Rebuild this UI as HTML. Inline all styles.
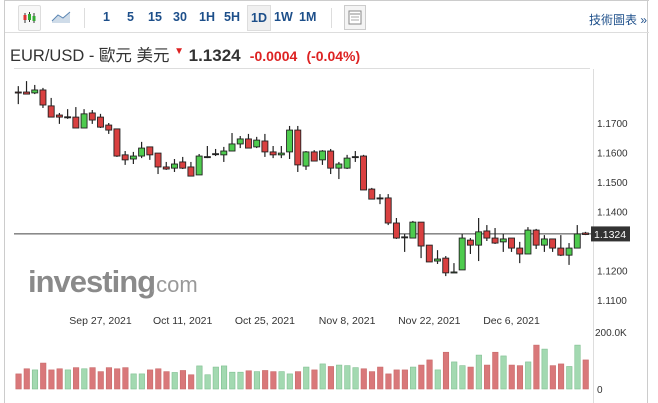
<!DOCTYPE html>
<html><head><meta charset="utf-8"><style>
body{margin:0;width:658px;height:403px;overflow:hidden;background:#fff;font-family:"Liberation Sans","Noto Sans CJK TC",sans-serif;}
#frame{position:absolute;left:4px;top:0;width:644px;height:403px;border-left:1px solid #ccc;border-right:1px solid #ccc;box-sizing:border-box;}
#toolbar{position:absolute;left:0;top:0;width:644px;height:33px;border-bottom:1px solid #ddd;border-top:1px solid #ccc;box-sizing:border-box;}
.tb{position:absolute;top:9px;font-size:12.5px;color:#1d4f8a;font-weight:bold;}
.sep{position:absolute;top:7px;width:1px;height:20px;background:#ddd;}
#title{position:absolute;left:10px;top:42px;font-size:16.5px;color:#333;white-space:nowrap;}
svg{position:absolute;left:0;top:0;}
</style></head><body>
<div id="frame">
 <div id="toolbar">
  <div style="position:absolute;left:13px;top:4px;width:21px;height:24px;border:1px solid #ddd;border-radius:2px;background:#f7f7f7;">
   <svg width="21" height="24"><line x1="6" y1="7" x2="6" y2="17" stroke="#333"/><rect x="4.5" y="9" width="3" height="5" fill="#d33"/><line x1="10.5" y1="6" x2="10.5" y2="16" stroke="#333"/><rect x="9" y="8" width="3" height="6" fill="#3a3"/><line x1="15" y1="7" x2="15" y2="17" stroke="#333"/><rect x="13.5" y="10" width="3" height="5" fill="#3a3"/></svg>
  </div>
  <div style="position:absolute;left:46px;top:8px;"><svg width="20" height="16"><path d="M1 12 L7 6 L12 9 L19 3 L19 14 L1 14Z" fill="#cfdce9"/><path d="M1 12 L7 6 L12 9 L19 3" stroke="#5b86b3" fill="none"/></svg></div>
  <div class="sep" style="left:79px"></div>
  <span class="tb" style="left:98px">1</span>
  <span class="tb" style="left:122px">5</span>
  <span class="tb" style="left:143px">15</span>
  <span class="tb" style="left:168px">30</span>
  <span class="tb" style="left:194px">1H</span>
  <span class="tb" style="left:219px">5H</span>
  <span class="tb" style="left:242px;top:4px;padding:5px 3px;background:#f0f0f0;border:1px solid #ddd;">1D</span>
  <span class="tb" style="left:269px">1W</span>
  <span class="tb" style="left:294px">1M</span>
  <div class="sep" style="left:326px"></div>
  <div style="position:absolute;left:339px;top:4px;width:20px;height:23px;border:1px solid #ccc;background:#f4f4f4;"><svg width="20" height="23"><rect x="4" y="5" width="12" height="13" fill="#fff" stroke="#888"/><line x1="5" y1="8" x2="15" y2="8" stroke="#888"/><line x1="6" y1="11" x2="14" y2="11" stroke="#aaa"/><line x1="6" y1="14" x2="14" y2="14" stroke="#aaa"/></svg></div>
  <span style="position:absolute;left:584px;top:10px;font-size:12px;color:#1d4f8a;">技術圖表 »</span>
 </div>
</div>
<div id="title"><span style="color:#333">EUR/USD - 歐元 美元</span> <span style="color:#d22;font-size:10px;position:relative;top:-7px">&#9660;</span> <b style="color:#333;font-size:17px">1.1324</b>&nbsp;&nbsp;<b style="color:#d22;font-size:14px">-0.0004</b>&nbsp;&nbsp;<b style="color:#d22;font-size:14px">(-0.04%)</b></div>
<svg id="chart" width="658" height="403"></svg>
<script>
const priceTicks=[1.17,1.16,1.15,1.14,1.12,1.11];
const dateLabels=["Sep 27, 2021","Oct 11, 2021","Oct 25, 2021","Nov 8, 2021","Nov 22, 2021","Dec 6, 2021"];
const dateIndex=[10,20,30,40,50,60];
const opens=[1.1805,1.1805,1.1802,1.1812,1.1758,1.1727,1.1720,1.1720,1.1683,1.1734,1.1720,1.1693,1.1680,1.1592,1.1578,1.1588,1.1619,1.1598,1.1551,1.1547,1.1568,1.1551,1.1524,1.1585,1.1595,1.1592,1.1605,1.1629,1.1646,1.1619,1.1639,1.1602,1.1592,1.1602,1.1676,1.1554,1.1602,1.1575,1.1605,1.1547,1.1547,1.1585,1.1588,1.1476,1.1446,1.1446,1.1361,1.1314,1.1310,1.1364,1.1286,1.1232,1.1242,1.1192,1.1202,1.1303,1.1286,1.1334,1.1310,1.1297,1.1310,1.1276,1.1256,1.1337,1.1286,1.1307,1.1276,1.1252,1.1276,1.1327];
const highs=[1.1825,1.1842,1.1829,1.1819,1.1785,1.1734,1.1747,1.1754,1.1747,1.1744,1.1731,1.1700,1.1680,1.1605,1.1602,1.1636,1.1619,1.1598,1.1568,1.1578,1.1585,1.1568,1.1595,1.1622,1.1612,1.1619,1.1666,1.1656,1.1663,1.1653,1.1663,1.1622,1.1622,1.1690,1.1690,1.1605,1.1608,1.1608,1.1612,1.1568,1.1592,1.1605,1.1592,1.1480,1.1459,1.1459,1.1378,1.1324,1.1368,1.1364,1.1286,1.1269,1.1249,1.1225,1.1324,1.1310,1.1378,1.1354,1.1344,1.1324,1.1310,1.1297,1.1347,1.1341,1.1320,1.1307,1.1320,1.1293,1.1354,1.1331];
const lows=[1.1764,1.1798,1.1798,1.1751,1.1720,1.1697,1.1714,1.1683,1.1683,1.1697,1.1683,1.1663,1.1585,1.1558,1.1561,1.1581,1.1575,1.1527,1.1541,1.1534,1.1544,1.1520,1.1524,1.1581,1.1588,1.1568,1.1605,1.1615,1.1615,1.1615,1.1585,1.1581,1.1581,1.1578,1.1534,1.1541,1.1571,1.1558,1.1527,1.1510,1.1544,1.1568,1.1473,1.1442,1.1425,1.1354,1.1307,1.1263,1.1310,1.1242,1.1229,1.1222,1.1181,1.1192,1.1202,1.1256,1.1232,1.1300,1.1290,1.1263,1.1263,1.1225,1.1256,1.1273,1.1263,1.1263,1.1249,1.1219,1.1276,1.1320];
const closes=[1.1802,1.1798,1.1812,1.1761,1.1720,1.1720,1.1721,1.1683,1.1731,1.1710,1.1686,1.1676,1.1588,1.1575,1.1588,1.1615,1.1592,1.1551,1.1544,1.1561,1.1547,1.1520,1.1588,1.1586,1.1596,1.1605,1.1629,1.1646,1.1615,1.1642,1.1602,1.1592,1.1598,1.1676,1.1558,1.1602,1.1571,1.1605,1.1547,1.1561,1.1581,1.1586,1.1473,1.1442,1.1445,1.1361,1.1310,1.1313,1.1364,1.1283,1.1229,1.1239,1.1192,1.1195,1.1310,1.1286,1.1331,1.1310,1.1293,1.1307,1.1276,1.1256,1.1337,1.1286,1.1307,1.1276,1.1252,1.1276,1.1324,1.1322];
const volumes=[53,71,67,91,67,71,67,75,71,75,61,75,71,75,53,53,67,71,61,58,65,50,81,50,77,81,59,59,64,61,65,61,61,53,61,77,67,88,79,84,82,75,71,61,77,53,67,67,77,84,102,67,129,95,82,77,119,84,129,116,84,82,95,154,140,82,88,79,154,102];
const lastPrice=1.1324;
const volTicks=[200,0];

const svg=document.getElementById('chart');
const NS='http://www.w3.org/2000/svg';
function el(t,a){const e=document.createElementNS(NS,t);for(const k in a)e.setAttribute(k,a[k]);svg.appendChild(e);return e;}
function yP(p){return 123+(1.17-p)*2950;}
function xI(i){return 18.3+i*8.22;}
function yV(v){return 389-v/200*57;}

let l=el('line',{x1:14,y1:68.5,x2:590,y2:68.5,stroke:'#ddd'});

l=el('line',{x1:593.5,y1:69,x2:593.5,y2:403,stroke:'#ddd'});


let wm=el('text',{x:28,y:292,'font-size':31,'font-weight':'bold',fill:'#8a8a8a','font-family':'Liberation Sans, sans-serif','letter-spacing':'-1'});

wm.textContent='investing';
let wm2=el('text',{x:150,y:292,'font-size':22,fill:'#999','font-family':'Liberation Sans, sans-serif'});

wm2.textContent='.com';

priceTicks.forEach(p=>{
 const t=el('text',{x:597,y:yP(p)+4,'font-size':10,fill:'#333','font-family':'Liberation Sans, sans-serif'});
 
 t.textContent=p.toFixed(4);
});
dateLabels.forEach((d,i)=>{
 const t=el('text',{x:xI(dateIndex[i]),y:324,'font-size':10.5,fill:'#333','text-anchor':'middle','font-family':'Liberation Sans, sans-serif'});
 
 t.textContent=d;
});
volTicks.forEach(v=>{
 const t=el('text',{x:v?595:597,y:yV(v)+4,'font-size':10,fill:'#333','font-family':'Liberation Sans, sans-serif'});
 
 t.textContent=v?v.toFixed(1)+'K':'0';
});

l=el('line',{x1:14,y1:yP(lastPrice),x2:592,y2:yP(lastPrice),stroke:'#444','stroke-width':1});


opens.forEach((o,i)=>{
 const c=closes[i],x=xI(i);
 const up=c>o, flat=Math.abs(c-o)<0.00025;
 const w=el('line',{x1:x,y1:yP(highs[i]),x2:x,y2:yP(lows[i]),stroke:'#222','stroke-width':1.2});
 
 const top=yP(Math.max(o,c)),bot=yP(Math.min(o,c));
 const b=el('rect',{x:x-3,y:top,width:6,height:Math.max(bot-top,1),fill:flat?'#222':(up?'#4ecb4e':'#d94040'),stroke:'#222','stroke-width':0.9});
 
 const vb=el('rect',{x:x-2.5,y:yV(volumes[i]),width:5.5,height:389-yV(volumes[i]),fill:up?'#a3d9b1':'#d9787a',stroke:up?'#7fbf90':'#c86a6a','stroke-width':0.6});
 
});

const bx=el('rect',{x:591,y:yP(lastPrice)-7.5,width:39,height:15,fill:'#333'});

const bt=el('text',{x:594,y:yP(lastPrice)+4,'font-size':10.5,fill:'#fff','font-family':'Liberation Sans, sans-serif'});

bt.textContent=lastPrice.toFixed(4);
</script>
</body></html>
